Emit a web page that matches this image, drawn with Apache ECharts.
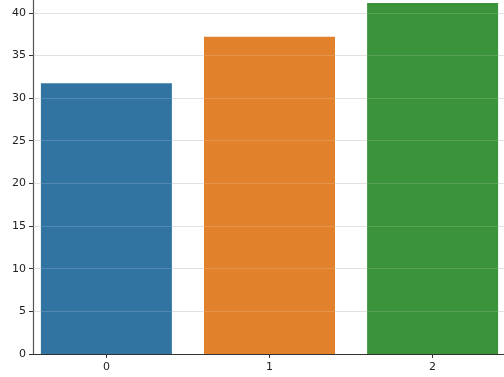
<!DOCTYPE html>
<html><head><meta charset="utf-8">
<script src="https://cdn.jsdelivr.net/npm/echarts@6/dist/echarts.min.js"></script>
<style>html,body{margin:0;padding:0;background:#fff}#c{width:504px;height:377px}</style>
</head><body><div id="c"></div>
<script>
const categories = [0, 1, 2];
const values = [31.75, 37.2, 41.15];
const colors = ['#3274a1', '#e1812c', '#3a923a'];
const yTicks = [0, 5, 10, 15, 20, 25, 30, 35, 40];

const chart = echarts.init(document.getElementById('c'), null, {renderer: 'canvas'});
const font = {fontFamily: 'DejaVu Sans', fontSize: 11, color: '#222'};
chart.setOption({
  animation: false,
  grid: {left: 33, top: 0, width: 473, bottom: 23, containLabel: false, outerBoundsMode: 'none'},
  xAxis: {
    type: 'value', min: -0.45, max: 2.45, z: 8,
    axisLine: {show: true, onZero: false, lineStyle: {color: '#333', width: 1.2}},
    axisTick: {show: true, customValues: categories, length: 4, lineStyle: {color: '#333'}},
    axisLabel: Object.assign({customValues: categories, margin: 8}, font),
    splitLine: {show: false}
  },
  yAxis: {
    type: 'value', min: 0, max: 41.5,
    axisLine: {show: true, onZero: false, lineStyle: {color: '#555', width: 1.2}},
    axisTick: {show: true, customValues: yTicks, length: 4, lineStyle: {color: '#333'}},
    axisLabel: Object.assign({customValues: yTicks, margin: 7}, font),
    splitLine: {show: true, lineStyle: {color: '#dcdcdc', width: 1}}
  },
  series: [{
    type: 'bar',
    barWidth: 131,
    data: categories.map((c, i) => ({value: [c, values[i]], itemStyle: {color: colors[i]}})),
    markLine: {
      silent: true, symbol: 'none', z: 3, label: {show: false},
      lineStyle: {color: '#ffffff', opacity: 0.15, width: 1, type: 'solid'},
      data: yTicks.slice(1).map(v => ({yAxis: v}))
    }
  }]
});
</script></body></html>
